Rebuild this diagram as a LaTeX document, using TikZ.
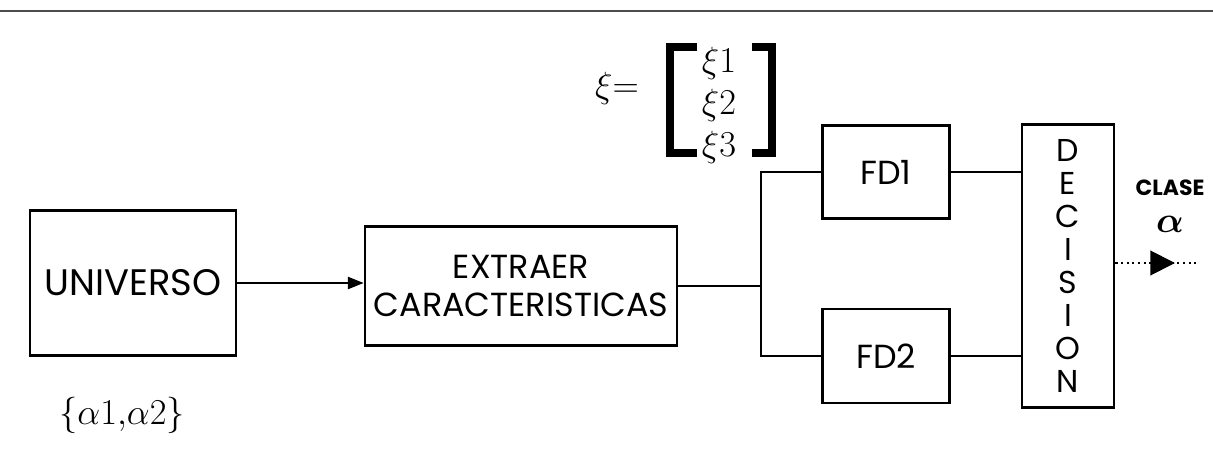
\documentclass[tikz,border=0pt]{standalone}
\usepackage{amsmath}
\usepackage{bm}
\usepackage{fontspec}
\setmainfont{Poppins}
\usetikzlibrary{positioning,arrows.meta,decorations.markings}

\begin{document}
\begin{tikzpicture}[x=0.02cm, y=-0.02cm, >=Triangle,
    block/.style={draw, line width=1.6pt, inner sep=0pt},
    wire/.style={line width=0.8pt},
    boxtext/.style={font=\fontsize{19}{22}\selectfont},
    mathtext/.style={font=\fontsize{22}{26}\selectfont}]

    \useasboundingbox (0, 0) rectangle (1213, 476);

    % Page rule at the top
    \draw[line width=0.6pt, gray!60!black] (0, 11) -- (1213, 11);

    % Blocks
    \node[block, font=\fontsize{21}{24}\selectfont, minimum width=4.12cm, minimum height=2.9cm] (univ) at (133, 283) {UNIVERSO};
    \node[block, boxtext, align=center, minimum width=6.24cm, minimum height=2.38cm] (ext) at (521, 286) {EXTRAER\\CARACTERISTICAS};
    \node[block, boxtext, minimum width=2.54cm, minimum height=1.86cm] (fd1) at (886, 172) {FD1};
    \node[block, boxtext, minimum width=2.54cm, minimum height=1.88cm] (fd2) at (886, 356) {FD2};
    \node[block, font=\fontsize{18}{18.8}\selectfont, align=center, minimum width=1.84cm, minimum height=5.66cm] (dec) at (1068, 266) {D\\E\\C\\I\\S\\I\\O\\N};

    % Labels
    \node[mathtext] (set) at (122, 415) {$\{\alpha1{,}\alpha2\}$};
    \node[mathtext] (xi) at (617, 88) {$\xi{=}$};
    \node[mathtext] (xi1) at (719, 63) {$\xi1$};
    \node[mathtext] (xi2) at (719, 105) {$\xi2$};
    \node[mathtext] (xi3) at (719, 147) {$\xi3$};
    \node[font=\fontsize{12.5}{15}\selectfont\bfseries] (clase) at (1170, 188) {CLASE};
    \node[font=\fontsize{20}{22}\selectfont] (alpha) at (1170, 224) {$\bm{\alpha}$};

    % Vector brackets
    \draw[line width=5pt] (697, 47) -- (670, 47) -- (670, 153) -- (697, 153);
    \draw[line width=5pt] (752, 47) -- (772, 47) -- (772, 153) -- (752, 153);

    % Connectors
    \coordinate (split) at (761, 286);
    \coordinate (out) at (1197, 263);
    \draw[wire, -{Triangle[length=9pt, width=7pt]}] (univ.east) -- (univ.east -| ext.west);
    \draw[wire] (ext.east) -- (split);
    \draw[wire] (split) |- (fd1.west);
    \draw[wire] (split) |- (fd2.west);
    \draw[wire] (fd1.east) -- (fd1.east -| dec.west);
    \draw[wire] (fd2.east) -- (fd2.east -| dec.west);
    \draw[line width=1.2pt, dotted, postaction={decorate},
        decoration={markings, mark=at position 0.73 with {\arrow{Triangle[length=14pt, width=14pt]}}}]
        (dec.east |- out) -- (out);

\end{tikzpicture}
\end{document}
